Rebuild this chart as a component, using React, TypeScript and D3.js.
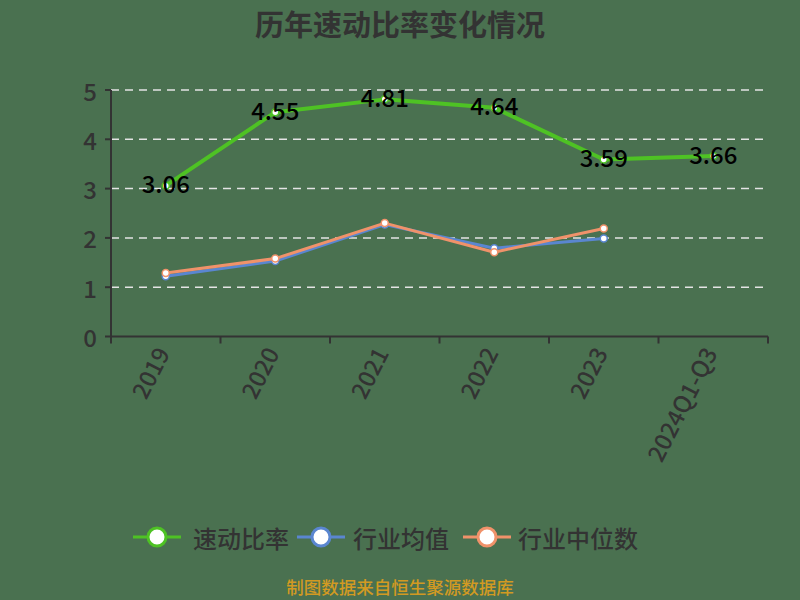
import React from "react";
import * as d3 from "d3";

const categories = ["2019", "2020", "2021", "2022", "2023", "2024Q1-Q3"];
const quickRatio = [3.06, 4.55, 4.81, 4.64, 3.59, 3.66];
const industryAvg = [1.22, 1.53, 2.27, 1.79, 1.99];
const industryMedian = [1.29, 1.58, 2.3, 1.71, 2.19];
const yTicks = [0, 1, 2, 3, 4, 5];

const FONT = "'Noto Sans CJK SC', 'Noto Sans', sans-serif";
const BG = "#4a7150";
const GREEN = "#4ec224";
const BLUE = "#5a86d0";
const ORANGE = "#f0926a";

const series = [
  { name: "速动比率", values: quickRatio, color: GREEN, width: 4 },
  { name: "行业均值", values: industryAvg, color: BLUE, width: 3 },
  { name: "行业中位数", values: industryMedian, color: ORANGE, width: 3 },
];

const App: React.FC = () => {
  const width = 800;
  const height = 600;
  const margin = { left: 111, right: 32, top: 90, bottom: 264 };

  const x = d3
    .scaleBand<string>()
    .domain(categories)
    .range([margin.left, width - margin.right]);
  const y = d3
    .scaleLinear()
    .domain([0, 5])
    .range([height - margin.bottom + 0.5, margin.top]);

  const cx = (i: number) => (x(categories[i]) ?? 0) + x.bandwidth() / 2;

  const line = d3
    .line<number>()
    .x((_, i) => cx(i))
    .y((d) => y(d));

  const bottom = y(0);
  const bandEdges = categories.map((c) => x(c) ?? 0).concat([width - margin.right]);

  const legendItems = [
    { name: "速动比率", color: GREEN, lx: 133, tx: 193 },
    { name: "行业均值", color: BLUE, lx: 297, tx: 353 },
    { name: "行业中位数", color: ORANGE, lx: 463, tx: 518 },
  ];

  return (
    <svg
      width={width}
      height={height}
      style={{ position: "absolute", left: 0, top: 0, fontFamily: FONT }}
    >
      <rect width={width} height={height} fill={BG} />

      <text
        x={400}
        y={23}
        textAnchor="middle"
        dominantBaseline="central"
        fontSize={29}
        fontWeight="bold"
        fill="#333"
      >
        历年速动比率变化情况
      </text>

      {/* grid */}
      {yTicks
        .filter((t) => t > 0)
        .map((t) => (
          <line
            key={t}
            x1={margin.left}
            x2={width - margin.right}
            y1={y(t)}
            y2={y(t)}
            stroke="#e4e4e4"
            strokeWidth={1.5}
            strokeDasharray="8,6"
          />
        ))}

      {/* y axis */}
      <line x1={margin.left} x2={margin.left} y1={y(5)} y2={bottom} stroke="#333" strokeWidth={2} />
      {yTicks.map((t) => (
        <g key={t}>
          <line x1={margin.left - 6} x2={margin.left} y1={y(t)} y2={y(t)} stroke="#333" strokeWidth={2} />
          <text
            x={margin.left - 14}
            y={y(t)}
            textAnchor="end"
            dominantBaseline="central"
            fontSize={24}
            fontWeight={500}
            fill="#333"
          >
            {t}
          </text>
        </g>
      ))}

      {/* x axis */}
      <line x1={margin.left} x2={width - margin.right} y1={bottom} y2={bottom} stroke="#333" strokeWidth={2} />
      {bandEdges.map((e, i) => (
        <line key={i} x1={e} x2={e} y1={bottom} y2={bottom + 7} stroke="#333" strokeWidth={2} />
      ))}
      {categories.map((c, i) => (
        <text
          key={c}
          transform={`translate(${cx(i) - 4},${bottom + 12}) rotate(-63)`}
          textAnchor="end"
          dominantBaseline="central"
          fontSize={23.5}
          fontWeight={500}
          fill="#333"
        >
          {c}
        </text>
      ))}

      {/* lines */}
      {series.map((s) => (
        <g key={s.name}>
          <path d={line(s.values) ?? ""} fill="none" stroke={s.color} strokeWidth={s.width} strokeLinejoin="round" />
          {s.values.map((v, i) => (
            <circle key={i} cx={cx(i)} cy={y(v)} r={3.5} fill="#fff" stroke={s.color} strokeWidth={1.5} />
          ))}
        </g>
      ))}

      {/* data labels */}
      {quickRatio.map((v, i) => (
        <text
          key={i}
          x={cx(i)}
          y={y(v) - 3}
          textAnchor="middle"
          dominantBaseline="central"
          fontSize={24}
          fontWeight={500}
          fill="#000"
        >
          {v.toFixed(2)}
        </text>
      ))}

      {/* legend */}
      {legendItems.map((l) => (
        <g key={l.name}>
          <line x1={l.lx} x2={l.lx + 48} y1={537} y2={537} stroke={l.color} strokeWidth={3} />
          <circle cx={l.lx + 24} cy={537} r={9} fill="#fff" stroke={l.color} strokeWidth={3} />
          <text x={l.tx} y={537} dominantBaseline="central" fontSize={24} fontWeight={500} fill="#333">
            {l.name}
          </text>
        </g>
      ))}

      <text
        x={400}
        y={586}
        textAnchor="middle"
        dominantBaseline="central"
        fontSize={17.5}
        fontWeight={500}
        fill="#d29a22"
      >
        制图数据来自恒生聚源数据库
      </text>
    </svg>
  );
};

export default App;
